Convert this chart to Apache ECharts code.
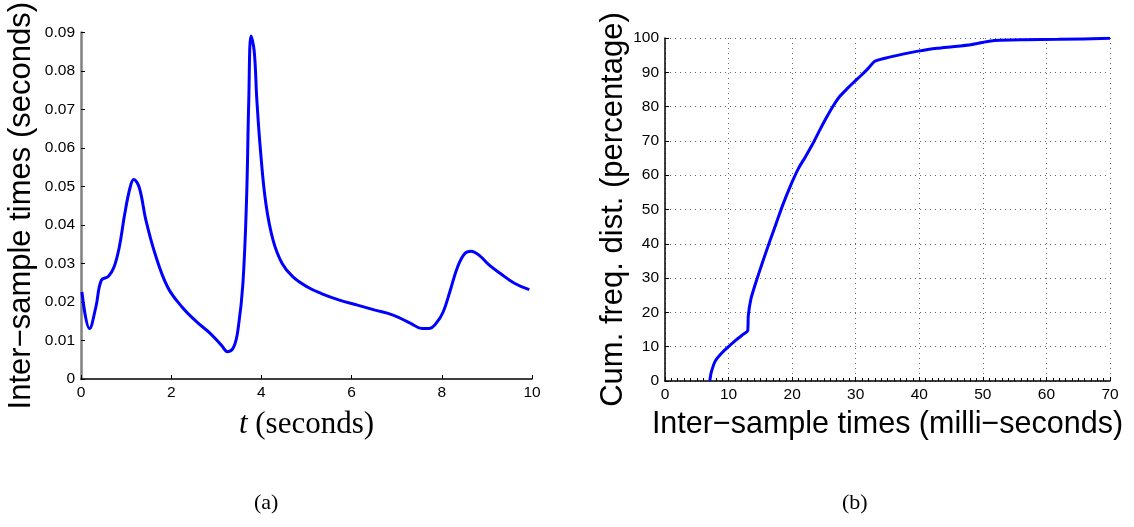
<!DOCTYPE html>
<html>
<head>
<meta charset="utf-8">
<script src="https://cdn.jsdelivr.net/npm/echarts@6/dist/echarts.min.js"></script>
<style>html,body{margin:0;padding:0;background:#fff}#c{width:1134px;height:527px}</style>
</head>
<body>
<div id="c"></div>
<script>
// Panel (a): inter-sample times vs time
const timeT = [0.02,0.19,0.33,0.45,0.61,0.73,0.85,0.97,1.09,1.17,1.29,1.44,1.64,1.92,2.24,2.56,2.87,3.11,3.25,3.39,3.49,3.59,3.67,3.72,3.77,3.84,3.90,3.98,4.10,4.26,4.46,4.70,5.02,5.33,5.73,6.13,6.52,6.92,7.32,7.56,7.71,7.87,8.03,8.19,8.35,8.51,8.65,8.83,9.06,9.30,9.62,9.94];
const interSample = [0.0226,0.0131,0.0187,0.0256,0.0267,0.0290,0.0343,0.0429,0.0498,0.0518,0.0498,0.0412,0.0326,0.0239,0.0187,0.0149,0.0118,0.0088,0.0071,0.0084,0.0136,0.0248,0.0464,0.0723,0.0891,0.0852,0.0723,0.0593,0.0455,0.0360,0.0300,0.0265,0.0239,0.0222,0.0205,0.0192,0.0179,0.0166,0.0144,0.0131,0.0131,0.0144,0.0174,0.0231,0.0291,0.0326,0.0332,0.0321,0.0295,0.0274,0.0248,0.0232];
// Panel (b): cumulative frequency distribution
const msTimes = [7.04,7.26,7.9,9.0,10.1,11.2,12.3,13.0,13.1,13.5,14.2,15.3,16.4,17.5,18.5,19.9,21.0,22.1,23.2,24.3,25.4,26.5,27.5,28.7,29.7,30.8,31.9,33.0,34.6,37.4,39.6,42.8,45.6,48.3,49.9,51.8,56.5,61.9,70];
const cumPct = [0,2.4,5.8,8.3,10.2,12,13.6,14.6,19,23.8,28.2,34.4,40.3,46.0,51.2,57.6,62.0,65.4,69.0,73,76.8,80.3,83.0,85.3,87.1,89,91,93.2,94.1,95.3,96.1,97,97.5,98.1,98.7,99.3,99.5,99.6,99.9];
const ticksA_x = [0,2,4,6,8,10];
const captions = ['(a)','(b)'];

const dataA = timeT.map((t,i)=>[t, interSample[i]]);
const dataB = msTimes.map((t,i)=>[t, cumPct[i]]);
const sans = 'Liberation Sans';
const serif = 'Liberation Serif';

const chart = echarts.init(document.getElementById('c'), null, {renderer:'canvas'});
chart.setOption({
  animation:false,
  backgroundColor:'#fff',
  grid:[
    {left:81, top:32, width:451, height:347},
    {left:665, top:38, width:445, height:343}
  ],
  xAxis:[
    {gridIndex:0, type:'value', min:0, max:10, interval:2,
     axisLine:{show:true, onZero:false, lineStyle:{color:'#000', width:1.5}},
     axisTick:{show:true, inside:true, length:4, lineStyle:{color:'#000'}},
     axisLabel:{color:'#000', fontFamily:sans, fontSize:15.5, margin:6,
       formatter:v=>ticksA_x.includes(v)?String(v):''},
     splitLine:{show:false},
     name:'{i|t} (seconds)', nameLocation:'middle', nameGap:30,
     nameTextStyle:{fontFamily:serif, fontSize:31, color:'#000',
       rich:{i:{fontFamily:serif, fontStyle:'italic', fontSize:31, color:'#000'}}}
    },
    {gridIndex:1, type:'value', min:0, max:70, interval:10,
     axisLine:{show:true, onZero:false, lineStyle:{color:'#000', width:1.5}},
     axisTick:{show:true, inside:true, length:4, lineStyle:{color:'#000'}},
     minorTick:{show:true, splitNumber:10, length:3, lineStyle:{color:'#000'}},
     axisLabel:{color:'#000', fontFamily:sans, fontSize:15.5, margin:6},
     splitLine:{show:true, lineStyle:{color:'#666', type:[1,4], width:1}},
     name:'Inter\u2212sample times (milli\u2212seconds)', nameLocation:'middle', nameGap:28,
     nameTextStyle:{fontFamily:sans, fontSize:30.5, color:'#000'}
    }
  ],
  yAxis:[
    {gridIndex:0, type:'value', min:0, max:0.09, interval:0.01,
     axisLine:{show:true, lineStyle:{color:'#808080', width:2.5}},
     axisTick:{show:true, inside:true, length:4, lineStyle:{color:'#000'}},
     axisLabel:{color:'#000', fontFamily:sans, fontSize:15.5, margin:6},
     splitLine:{show:false},
     name:'Inter\u2212sample times (seconds)', nameLocation:'middle', nameGap:44,
     nameTextStyle:{fontFamily:sans, fontSize:31, color:'#000'}
    },
    {gridIndex:1, type:'value', min:0, max:100, interval:10,
     axisLine:{show:true, lineStyle:{color:'#000', width:1.5}},
     axisTick:{show:true, inside:true, length:4, lineStyle:{color:'#000'}},
     axisLabel:{color:'#000', fontFamily:sans, fontSize:15.5, margin:6},
     splitLine:{show:true, lineStyle:{color:'#666', type:[1,4], width:1}},
     name:'Cum. freq. dist. (percentage)', nameLocation:'middle', nameGap:36,
     nameTextStyle:{fontFamily:sans, fontSize:31, color:'#000'}
    }
  ],
  series:[
    {type:'line', xAxisIndex:0, yAxisIndex:0, data:dataA, smooth:0.4, symbol:'none',
     lineStyle:{color:'#0000ff', width:3}},
    {type:'line', xAxisIndex:1, yAxisIndex:1, data:dataB, smooth:0.2, symbol:'none',
     lineStyle:{color:'#0000ff', width:3}}
  ],
  graphic:[
    {type:'text', left:254, top:492, style:{text:captions[0], font:'22px "Liberation Serif"', fill:'#000'}},
    {type:'text', left:842, top:492, style:{text:captions[1], font:'22px "Liberation Serif"', fill:'#000'}}
  ]
});
</script>
</body>
</html>
